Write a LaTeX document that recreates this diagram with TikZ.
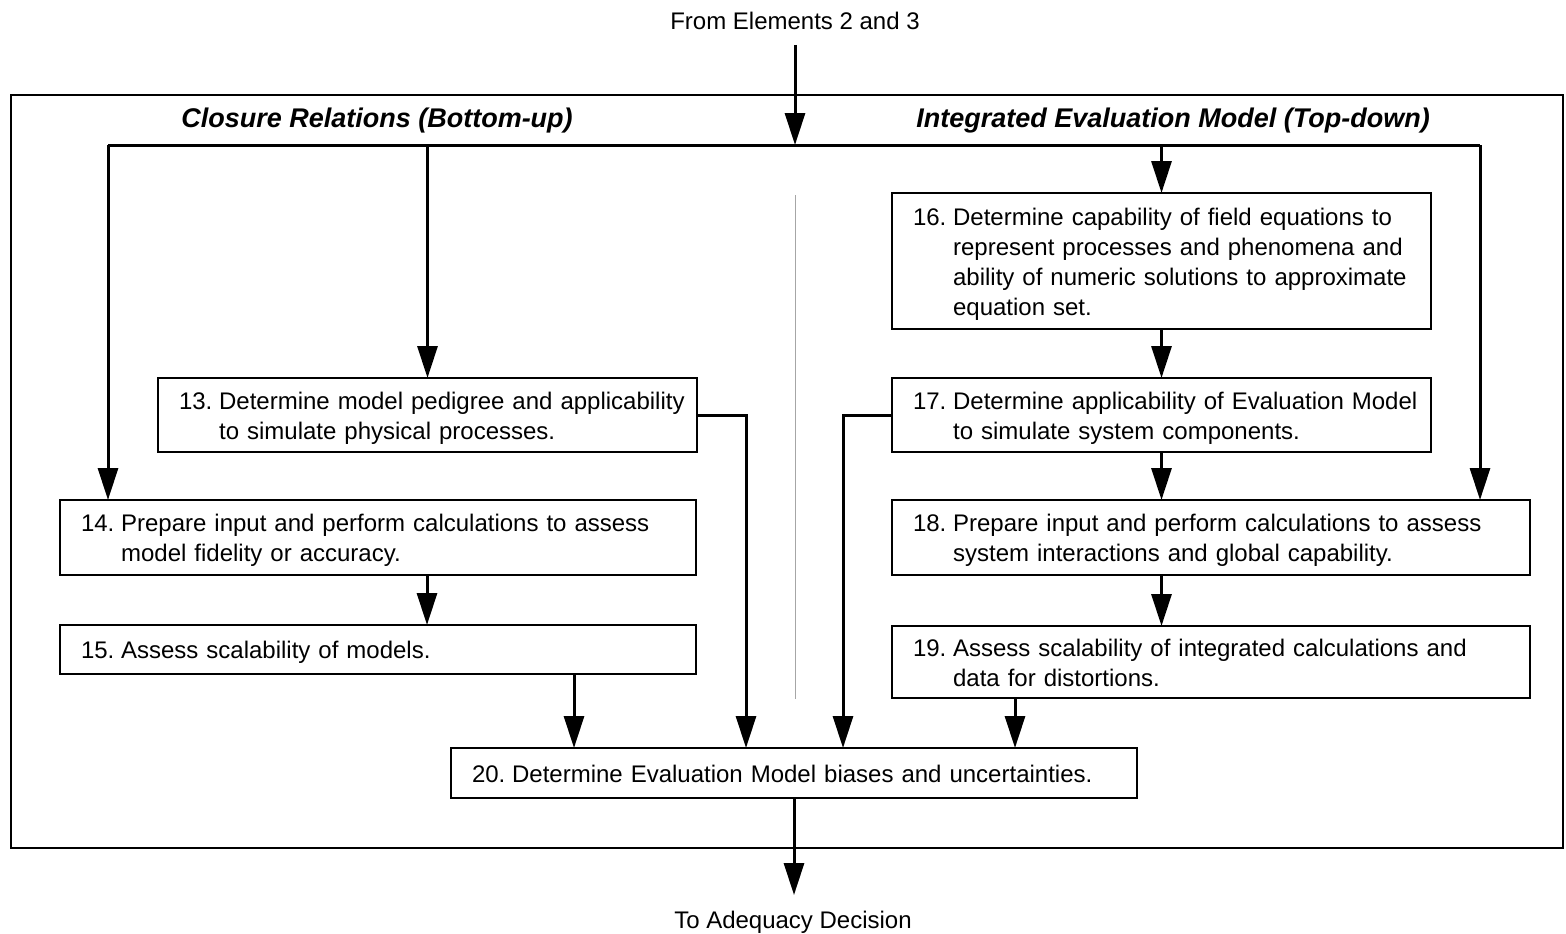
\documentclass[tikz,border=0pt]{standalone}
\usepackage{fontspec}
\setmainfont{Liberation Sans}
\usetikzlibrary{arrows.meta}
\newcommand{\steptext}[1]{\raisebox{-3pt}[\height][\depth]{\begin{tabular}{@{}l@{\hskip0.28em}l@{}}#1\end{tabular}}}
\begin{document}
\begin{tikzpicture}[x=1pt,y=-1pt,
  every node/.style={font=\fontsize{24}{30}\selectfont},
  stepbox/.style={draw, line width=1.4pt, rectangle, inner xsep=21pt, inner ysep=0pt,
    outer sep=0pt, align=left, anchor=north west},
  flow/.style={line width=3pt, -{Triangle[length=32pt,width=20pt]}},
  link/.style={line width=3pt},
  title/.style={font=\fontsize{27}{32}\selectfont\bfseries\itshape}]
\useasboundingbox (0,0) rectangle (1566,934);

% frame around both evaluation paths
\draw[line width=1.8pt] (11,95) rectangle (1563,848);
\draw[gray!70, line width=1pt] (795,195) -- (795,699);

% headers and external labels
\node (src) at (795,21) {From Elements 2 and 3};
\node (dst) at (793,922) {To Adequacy Decision};
\node[title] (hl) at (377,121) {Closure Relations (Bottom-up)};
\node[title] (hr) at (1173,121) {Integrated Evaluation Model (Top-down)};

% process steps
\node[stepbox, text width=497pt, minimum height=136pt] (b16) at (892,193)
  {\steptext{16. & Determine capability of field equations to\\
   & represent processes and phenomena and\\
   & ability of numeric solutions to approximate\\
   & equation set.}};
\node[stepbox, text width=497pt, minimum height=74pt] (b13) at (158,378)
  {\steptext{13. & Determine model pedigree and applicability\\
   & to simulate physical processes.}};
\node[stepbox, text width=497pt, minimum height=74pt] (b17) at (892,378)
  {\steptext{17. & Determine applicability of Evaluation Model\\
   & to simulate system components.}};
\node[stepbox, text width=594pt, minimum height=75pt] (b14) at (60,500)
  {\steptext{14. & Prepare input and perform calculations to assess\\
   & model fidelity or accuracy.}};
\node[stepbox, text width=596pt, minimum height=75pt] (b18) at (892,500)
  {\steptext{18. & Prepare input and perform calculations to assess\\
   & system interactions and global capability.}};
\node[stepbox, text width=594pt, minimum height=49pt] (b15) at (60,625)
  {\steptext{15. & Assess scalability of models.}};
\node[stepbox, text width=596pt, minimum height=72pt] (b19) at (892,626)
  {\steptext{19. & Assess scalability of integrated calculations and\\
   & data for distortions.}};
\node[stepbox, text width=644pt, minimum height=50pt] (b20) at (451,748)
  {\steptext{20. & Determine Evaluation Model biases and uncertainties.}};

% distribution bus
\coordinate (in) at (795,45);
\coordinate (bus) at (795,145);
\coordinate (busL) at (108,145);
\coordinate (busR) at (1480,145);
\coordinate (out) at (794,895);
\draw[flow] (in) -- (bus);
\draw[link] (busL) -- (busR);
\draw[flow] (busL) -- (busL |- b14.north);
\draw[flow] (b13.north |- busL) -- (b13.north);
\draw[flow] (b16.north |- busL) -- (b16.north);
\draw[flow] (busR) -- (busR |- b18.north);

% top-down chain
\draw[flow] (b16.south) -- (b17.north);
\draw[flow] (b17.south) -- (b17.south |- b18.north);
\draw[flow] (b17.south |- b18.south) -- (b17.south |- b19.north);

% bottom-up chain
\draw[flow] ([xshift=49pt]b14.south) -- ([xshift=49pt]b15.north);

% into step 20
\draw[flow] ([xshift=196pt]b15.south) -- ([xshift=196pt]b15.south |- b20.north);
\draw[flow] (b13.east) -| ([xshift=-48pt]b20.north);
\draw[flow] (b17.west) -| ([xshift=49pt]b20.north);
\draw[flow] ([xshift=221pt]b20.north |- b19.south) -- ([xshift=221pt]b20.north);
\draw[flow] (b20.south) -- (out);
\end{tikzpicture}
\end{document}
